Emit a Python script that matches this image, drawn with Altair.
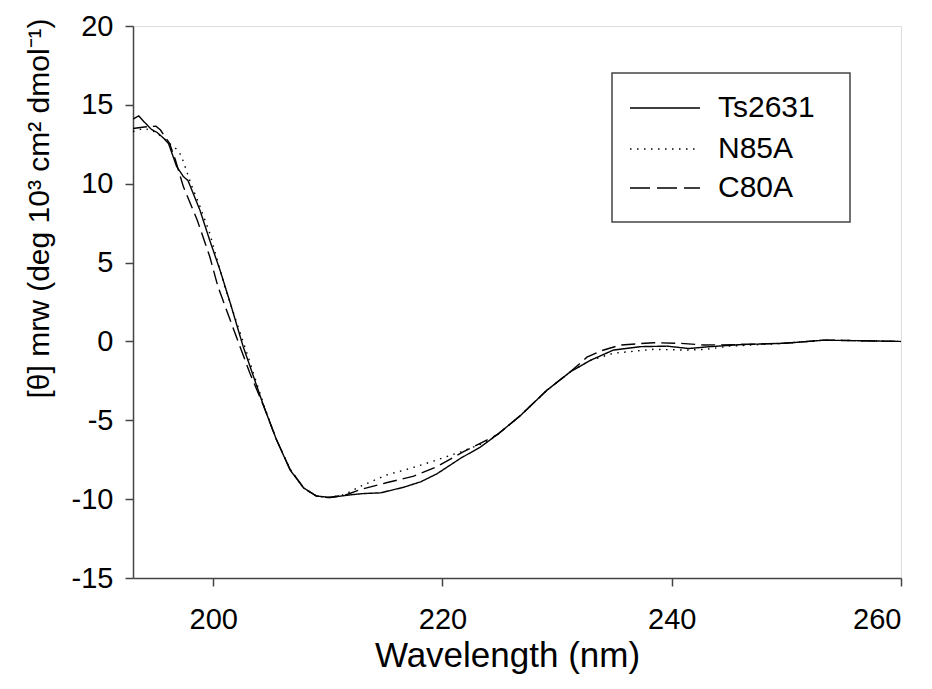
import altair as alt
import pandas as pd

# ---- data ----
ts_nm = [193.0, 193.5, 194.0, 194.6, 195.1, 195.65, 196.1, 196.8, 197.4, 197.8, 198.85, 199.7,
         200.6, 201.5, 202.6, 203.5, 204.4, 205.5, 206.7, 207.9, 209.0, 210.2, 211.7, 213.0,
         214.6, 216.6, 218.1, 219.5, 221.6, 223.3, 224.8, 226.8, 229.1, 231.2, 232.9, 234.9,
         237.3, 239.6, 241.5, 243.0, 246.0, 249.8, 253.3, 256.0, 260.0]
ts_val = [14.1, 14.3, 13.9, 13.45, 13.25, 12.9, 12.55, 11.1, 10.45, 10.2, 8.3, 6.4,
          4.5, 2.4, -0.3, -2.2, -4.1, -6.2, -8.15, -9.3, -9.8, -9.9, -9.75, -9.65,
          -9.6, -9.25, -8.9, -8.4, -7.4, -6.7, -5.9, -4.7, -3.1, -1.9, -1.2, -0.55,
          -0.33, -0.3, -0.45, -0.35, -0.2, -0.12, 0.08, 0.05, 0.0]

n85_nm = [193.0, 193.9, 194.6, 195.1, 195.65, 196.1, 196.95, 197.25, 197.7, 198.1, 198.85, 199.7,
          201.0, 202.6, 203.5, 204.4, 205.5, 206.7, 207.9, 209.0, 210.2, 211.5, 212.8, 215.1,
          217.2, 219.5, 221.6, 223.9, 224.8, 226.8, 229.1, 231.2, 232.9, 234.9, 238.4, 241.3,
          243.0, 245.0, 249.8, 253.3, 256.0, 260.0]
n85_val = [13.3, 13.5, 13.4, 13.2, 12.9, 12.6, 12.1, 11.7, 10.76, 9.9, 8.54, 6.85,
           3.47, 0.0, -2.0, -4.0, -6.2, -8.1, -9.3, -9.8, -9.9, -9.7, -9.2, -8.47,
           -8.05, -7.52, -7.0, -6.36, -5.9, -4.7, -3.1, -1.9, -1.2, -0.75, -0.5, -0.55,
           -0.5, -0.3, -0.12, 0.08, 0.05, 0.0]

c80_nm = [193.0, 194.0, 195.0, 195.4, 196.2, 196.7, 197.4, 198.6, 199.7, 200.4, 201.8, 203.2,
          204.4, 205.5, 206.7, 207.9, 209.0, 210.0, 211.5, 212.8, 215.1, 217.5, 219.5, 221.8,
          223.9, 224.8, 226.8, 229.1, 231.2, 232.6, 233.8, 235.5, 238.4, 240.8, 242.8, 246.0,
          250.0, 253.3, 256.0, 260.0]
c80_val = [13.5, 13.6, 13.65, 13.4, 12.55, 11.5, 9.8, 7.7, 5.37, 3.5, 0.72, -2.02,
           -4.1, -6.2, -8.1, -9.3, -9.8, -9.9, -9.75, -9.4, -8.96, -8.54, -7.95, -7.0,
           -6.25, -5.9, -4.7, -3.1, -1.9, -1.0, -0.6, -0.23, -0.08, -0.12, -0.23, -0.2,
           -0.1, 0.08, 0.05, 0.0]

series_names = ["Ts2631", "N85A", "C80A"]
x_ticks = [200, 220, 240, 260]
y_ticks = [-15, -10, -5, 0, 5, 10, 15, 20]

df = pd.concat([
    pd.DataFrame({"nm": ts_nm, "val": ts_val, "series": "Ts2631"}),
    pd.DataFrame({"nm": n85_nm, "val": n85_val, "series": "N85A"}),
    pd.DataFrame({"nm": c80_nm, "val": c80_val, "series": "C80A"}),
], ignore_index=True)

W, H = 768, 552
AX = "#444444"
FONT = "Liberation Sans"

x_enc = alt.X("nm:Q", scale=alt.Scale(domain=[193, 260], nice=False, zero=False),
              axis=alt.Axis(values=x_ticks, title="Wavelength (nm)", grid=False,
                            tickSize=8, tickColor=AX, domainColor=AX, domainWidth=1.5, tickWidth=1.5,
                            labelFontSize=29, labelColor="black", labelPadding=19, labelFont=FONT,
                            labelExpr="'' + datum.value",
                            titleFontSize=35, titleFontWeight="normal", titleColor="black", titleFont=FONT,
                            titleX=374, titleY=88, titleAlign="center", titleBaseline="alphabetic"))
y_enc = alt.Y("val:Q", scale=alt.Scale(domain=[-15, 20], nice=False, zero=False),
              axis=alt.Axis(values=y_ticks, title="[θ] mrw (deg 10³ cm² dmol⁻¹)", grid=False,
                            tickSize=8, tickColor=AX, domainColor=AX, domainWidth=1.5, tickWidth=1.5,
                            labelFontSize=29, labelColor="black", labelPadding=12, labelFont=FONT,
                            labelExpr="'' + datum.value",
                            titleFontSize=30, titleFontWeight="normal", titleColor="black", titleFont=FONT,
                            titleX=-85, titleY=182, titleAlign="center", titleBaseline="alphabetic",
                            titleAngle=270))

lines = alt.Chart(df).mark_line(color="black", strokeWidth=1.4).encode(
    x=x_enc, y=y_enc,
    strokeDash=alt.StrokeDash("series:N", scale=alt.Scale(domain=series_names,
                                                        range=[[1, 0], [1.5, 5.5], [14, 6]]),
                              legend=None),
    detail="series:N",
)

one = pd.DataFrame({"k": [0]})
box = alt.Chart(one).mark_rect(filled=False, stroke=AX, strokeWidth=1.5).encode(
    x=alt.value(479), x2=alt.value(717), y=alt.value(47), y2=alt.value(196))

dashes = [[1, 0], [1.5, 5.5], [20, 7]]
rows = [82, 123, 162]
legend_layers = []
for name, dash, yy in zip(series_names, dashes, rows):
    legend_layers.append(alt.Chart(one).mark_rule(color="black", strokeWidth=1.4, strokeDash=dash).encode(
        x=alt.value(497), x2=alt.value(567), y=alt.value(yy)))
    legend_layers.append(alt.Chart(one).mark_text(text=name, font=FONT, fontSize=30, align="left",
                                                  baseline="middle", color="black").encode(
        x=alt.value(585), y=alt.value(yy)))

chart = alt.layer(lines, box, *legend_layers).properties(
    width=W, height=H,
    autosize=alt.AutoSizeParams(type="none"),
    padding={"left": 125, "top": 18, "right": 10, "bottom": 102},
).configure_view(stroke=AX, strokeWidth=1.5).configure(background="white")

chart.save("out.html", embed_options={"renderer": "svg", "actions": False})
